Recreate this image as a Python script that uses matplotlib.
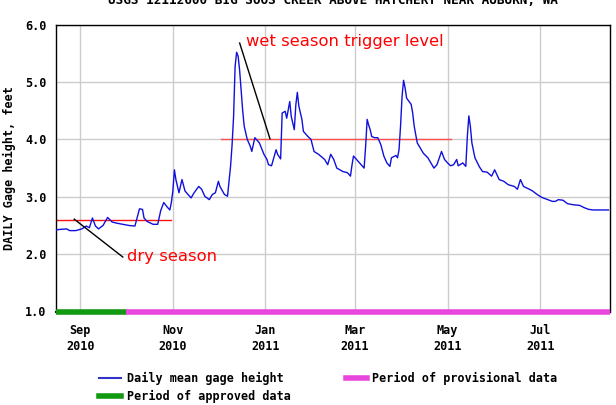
import numpy as np
import matplotlib
matplotlib.use("Agg")
import matplotlib.pyplot as plt
from matplotlib.lines import Line2D

# ---------------- data ----------------
start_date = np.datetime64("2010-08-16")
end_date = np.datetime64("2011-08-16")
day_offsets = [0, 2, 7, 9, 13, 17, 20, 22, 24, 26, 28, 31, 34, 37, 40, 44, 48, 52, 55, 57,
               58, 60, 64, 67, 69, 71, 73, 75, 76, 77, 78, 79, 81, 83, 85, 89, 91, 94, 96, 98,
               101, 103, 105, 107, 108, 111, 113, 115, 116, 117, 118, 119, 120, 121, 122, 123, 124, 126, 128, 129,
               131, 133, 134, 137, 139, 140, 142, 145, 146, 148, 149, 151, 152, 154, 155, 157, 158, 159, 160, 162,
               163, 166, 168, 170, 173, 177, 179, 181, 183, 185, 189, 192, 194, 195, 196, 197, 200, 203, 204, 205,
               206, 207, 208, 210, 212, 214, 216, 218, 220, 221, 224, 225, 226, 227, 228, 229, 230, 231, 234, 235,
               236, 238, 240, 242, 245, 247, 249, 251, 253, 254, 256, 258, 260, 262, 264, 265, 268, 270, 271, 272,
               273, 274, 276, 279, 281, 284, 287, 289, 292, 295, 298, 302, 304, 306, 308, 312, 314, 317, 320, 324,
               327, 329, 331, 334, 337, 341, 345, 348, 351, 354, 358, 364]
gage_height = [2.42, 2.43, 2.44, 2.41, 2.41, 2.44, 2.49, 2.46, 2.63, 2.49, 2.44, 2.50, 2.64, 2.56, 2.54, 2.52, 2.50, 2.49, 2.79, 2.78,
               2.63, 2.57, 2.52, 2.52, 2.76, 2.90, 2.83, 2.77, 2.90, 3.10, 3.47, 3.30, 3.07, 3.30, 3.10, 2.98, 3.07, 3.18, 3.13, 3.01,
               2.95, 3.04, 3.07, 3.27, 3.18, 3.04, 3.01, 3.53, 3.90, 4.40, 5.27, 5.52, 5.45, 5.20, 4.85, 4.50, 4.23, 4.00, 3.88, 3.79,
               4.03, 3.97, 3.94, 3.74, 3.65, 3.56, 3.54, 3.82, 3.74, 3.66, 4.46, 4.49, 4.37, 4.66, 4.40, 4.17, 4.60, 4.82, 4.58, 4.35,
               4.14, 4.05, 4.00, 3.79, 3.74, 3.65, 3.56, 3.74, 3.65, 3.50, 3.44, 3.42, 3.36, 3.55, 3.71, 3.68, 3.59, 3.50, 3.88, 4.35,
               4.25, 4.17, 4.05, 4.03, 4.03, 3.91, 3.71, 3.59, 3.53, 3.68, 3.72, 3.68, 3.82, 4.23, 4.75, 5.03, 4.90, 4.72, 4.61, 4.46,
               4.23, 3.94, 3.85, 3.76, 3.68, 3.59, 3.50, 3.56, 3.71, 3.79, 3.65, 3.59, 3.54, 3.56, 3.65, 3.54, 3.59, 3.53, 4.05, 4.41,
               4.23, 3.94, 3.68, 3.52, 3.44, 3.43, 3.36, 3.47, 3.30, 3.27, 3.21, 3.18, 3.13, 3.30, 3.18, 3.13, 3.10, 3.04, 2.99, 2.95,
               2.92, 2.92, 2.95, 2.94, 2.88, 2.86, 2.85, 2.81, 2.78, 2.77, 2.77, 2.77]

dry_level = 2.6
dry_period = ["2010-08-16", "2010-10-31"]
wet_level = 4.0
wet_period = ["2010-12-03", "2011-05-03"]
approved_period = ["2010-08-16", "2010-10-01"]
provisional_period = ["2010-10-01", "2011-08-16"]

tick_dates = ["2010-09-01", "2010-11-01", "2011-01-01", "2011-03-01", "2011-05-01", "2011-07-01"]
tick_labels = ["Sep\n2010", "Nov\n2010", "Jan\n2011", "Mar\n2011", "May\n2011", "Jul\n2011"]
y_ticks = [1.0, 2.0, 3.0, 4.0, 5.0, 6.0]

title = "USGS 12112600 BIG SOOS CREEK ABOVE HATCHERY NEAR AUBURN, WA"
y_label = "DAILY Gage height, feet"

# annotations: (label, text anchor date, text value, line dates, line values)
dry_note = ("dry season", "2010-10-02", 1.96, ["2010-08-28", "2010-09-29"], [2.61, 1.95])
wet_note = ("wet season trigger level", "2010-12-19", 5.71, ["2010-12-15", "2011-01-04"], [5.68, 4.01])

# ---------------- plot ----------------
dates = start_date + np.array(day_offsets).astype("timedelta64[D]")

fig = plt.figure(figsize=(6.16, 4.05), dpi=100)
ax = fig.add_axes([56 / 616, 1 - 311.5 / 405, 554 / 616, (311.5 - 24.7) / 405])

mono = "DejaVu Sans Mono"
ax.plot(dates, gage_height, color="#1010dd", lw=1.0, zorder=3)

ax.plot(np.array(dry_period, dtype="datetime64[D]"), [dry_level, dry_level], color="#ff1010", lw=1.0, zorder=2)
ax.plot(np.array(wet_period, dtype="datetime64[D]"), [wet_level, wet_level], color="#ff5050", lw=1.0, zorder=2)

for note in (dry_note, wet_note):
    txt, tx, ty, lx, ly = note
    ax.plot(np.array(lx, dtype="datetime64[D]"), ly, color="black", lw=1.0, zorder=4)
    ax.text(np.datetime64(tx), ty, txt, color="#ff0000", fontsize=11.8, va="center", ha="left",
            family="DejaVu Sans", zorder=5)

green = "#119911"
magenta = "#e846dc"
ax.plot(np.array(approved_period, dtype="datetime64[D]"), [1, 1], color=green, lw=4, solid_capstyle="butt",
        clip_on=False, zorder=6)
ax.plot(np.array(provisional_period, dtype="datetime64[D]"), [1, 1], color=magenta, lw=4, solid_capstyle="butt",
        clip_on=False, zorder=6)

ax.set_xlim(start_date, end_date)
ax.set_ylim(1, 6)
ax.set_xticks(np.array(tick_dates, dtype="datetime64[D]"))
ax.set_xticklabels(tick_labels, family=mono, fontweight="bold", fontsize=8.5, linespacing=1.3)
ax.set_yticks(y_ticks)
ax.set_yticklabels([f"{v:.1f}" for v in y_ticks], family=mono, fontweight="bold", fontsize=8.5)
ax.tick_params(axis="both", length=0)
ax.tick_params(axis="x", pad=9)
ax.tick_params(axis="y", pad=7)
ax.grid(True, color="#cccccc", lw=1.0)
ax.set_axisbelow(True)
for s in ax.spines.values():
    s.set_color("black")
    s.set_linewidth(1.0)
ax.spines["bottom"].set_color("#330033")
ax.spines["bottom"].set_linewidth(1.5)

ax.set_ylabel(y_label, family=mono, fontweight="bold", fontsize=8.5)
ax.yaxis.set_label_coords(-(56 - 16) / 554, 0.5)

fig.text(333 / 616, 1 - 4 / 405, title, family=mono, fontweight="bold", fontsize=9.2,
         ha="center", va="baseline")

# legend
def leg_line(x0, x1, y, color, lw):
    fig.add_artist(Line2D([x0 / 616, x1 / 616], [1 - y / 405, 1 - y / 405], color=color, lw=lw,
                          transform=fig.transFigure))

def leg_text(x, y, s):
    fig.text(x / 616, 1 - y / 405, s, family=mono, fontweight="bold", fontsize=8.5, ha="left", va="center")

leg_line(99, 121, 378, "#3333cc", 1.5)
leg_text(127, 378, "Daily mean gage height")
leg_line(346, 367, 378, magenta, 4)
leg_text(372, 378, "Period of provisional data")
leg_line(99, 121, 396, green, 4)
leg_text(127, 396, "Period of approved data")

fig.savefig("out.png", dpi=100)
